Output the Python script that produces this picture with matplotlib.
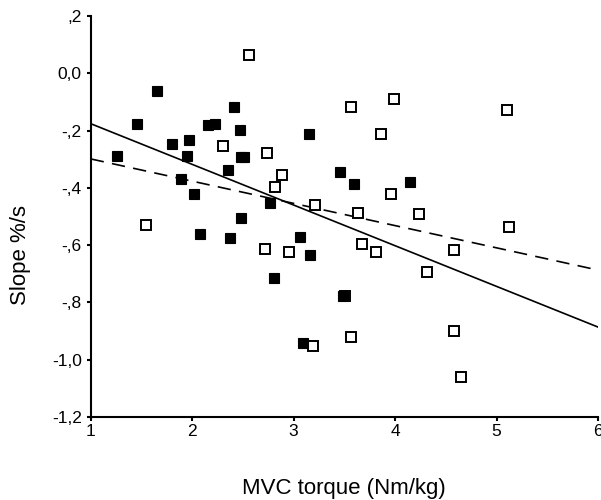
import matplotlib.pyplot as plt
import numpy as np

plt.rcParams['font.family'] = ['Liberation Sans', 'DejaVu Sans']

# filled squares (group 1)
filled_x = [1.65, 1.46, 1.26, 1.80, 1.97, 1.95, 1.89, 2.02, 2.16, 2.22,
            2.41, 2.47, 2.48, 2.51, 2.35, 2.48, 2.77, 3.15, 3.46, 3.59,
            4.15, 2.08, 2.37, 3.06, 3.16, 2.81, 3.09, 3.49]
filled_y = [-0.062, -0.177, -0.288, -0.248, -0.234, -0.288, -0.370, -0.420, -0.182, -0.177,
            -0.119, -0.197, -0.292, -0.292, -0.336, -0.504, -0.454, -0.211, -0.346, -0.385,
            -0.380, -0.561, -0.575, -0.570, -0.633, -0.714, -0.943, -0.776]

# open squares (group 2)
open_x = [2.56, 2.30, 2.74, 2.89, 2.82, 3.21, 1.54, 3.57, 3.99, 5.10,
          3.86, 3.96, 3.63, 4.24, 5.12, 2.72, 2.95, 3.67, 3.81, 4.58,
          4.31, 3.19, 3.57, 4.58, 4.65, 3.51]
open_y = [0.064, -0.253, -0.278, -0.356, -0.398, -0.459, -0.528, -0.119, -0.091, -0.128,
          -0.211, -0.422, -0.488, -0.493, -0.537, -0.615, -0.624, -0.596, -0.623, -0.618,
          -0.694, -0.953, -0.919, -0.899, -1.061, -0.776]

# regression lines
fit_x = [1, 6]
solid_y = [-0.176, -0.886]
dashed_y = [-0.299, -0.687]

yticks = [0.2, 0.0, -0.2, -0.4, -0.6, -0.8, -1.0, -1.2]
ytick_labels = [',2', '0,0', '-,2', '-,4', '-,6', '-,8', '-1,0', '-1,2']
xticks = [1, 2, 3, 4, 5, 6]

fig = plt.figure(figsize=(6.01, 5.00), dpi=100)
ax = fig.add_axes([0.151, 0.166, 0.844, 0.802])

ax.plot(fit_x, solid_y, color='black', lw=1.2)
ax.plot(fit_x, dashed_y, color='black', lw=1.2, dashes=(8, 5))
ax.plot(open_x, open_y, 's', ms=6.5, mfc='white', mec='black', mew=1.4, ls='none')
ax.plot(filled_x, filled_y, 's', ms=6.5, mfc='black', mec='black', mew=0.8, ls='none')

ax.set_xlim(1, 6)
ax.set_ylim(-1.2, 0.2)
ax.set_xticks(xticks)
ax.set_yticks(yticks)
ax.set_yticklabels(ytick_labels)
ax.tick_params(direction='out', length=3, width=1.5, labelsize=12.5)
ax.tick_params(axis='x', pad=2)

for s in ['top', 'right']:
    ax.spines[s].set_visible(False)
for s in ['left', 'bottom']:
    ax.spines[s].set_linewidth(1.5)

ax.set_xlabel('MVC torque (Nm/kg)', fontsize=16)
ax.set_ylabel('Slope %/s', fontsize=16)
ax.xaxis.set_label_coords(0.5, -0.152)
ax.yaxis.set_label_coords(-0.118, 0.404)

fig.savefig('out.png', dpi=100)
